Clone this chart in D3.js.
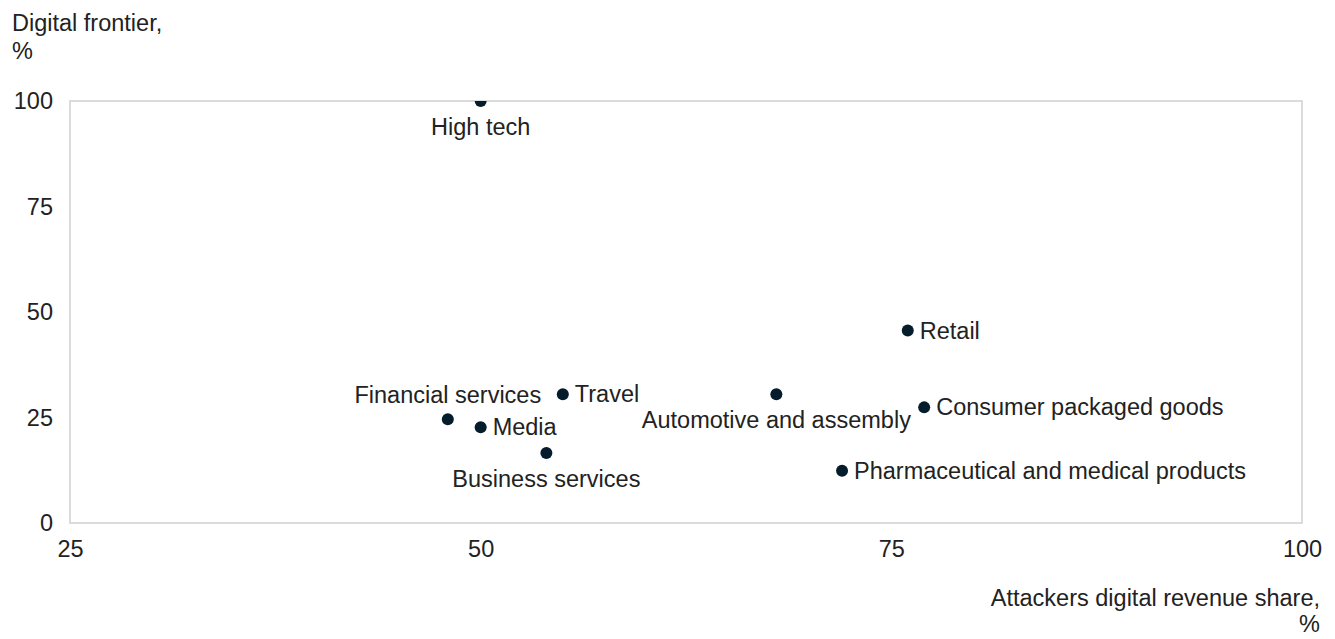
<!DOCTYPE html>
<html>
<head>
<meta charset="utf-8">
<script src="https://cdn.jsdelivr.net/npm/d3@7"></script>
<style>
  html, body { margin: 0; padding: 0; background: #fff; }
  svg { display: block; font-family: "Liberation Sans", Arial, sans-serif; }
</style>
</head>
<body>
<svg id="chart" width="1335" height="639"></svg>
<script>
// Industries plotted: attackers' digital revenue share vs. digital frontier
const industries = [
  "High tech", "Retail", "Travel", "Automotive and assembly",
  "Consumer packaged goods", "Financial services", "Media",
  "Business services", "Pharmaceutical and medical products"
];
const revenueShare = [50, 76, 55, 68, 77, 48, 50, 54, 72];
const digitalFrontier = [100, 45.6, 30.5, 30.5, 27.4, 24.6, 22.7, 16.6, 12.4];
// where each label sits relative to its dot
const labelSide = ["below", "right", "right", "below", "right", "above", "right", "below", "right"];

const xTicks = [25, 50, 75, 100];
const yTicks = [0, 25, 50, 75, 100];

const width = 1335, height = 639;
const plot = { left: 70, right: 1302, top: 101, bottom: 523 };
const ink = "#051c2c";
const textColor = "#222";
const fontSize = 23.5;

const svg = d3.select("#chart");

const x = d3.scaleLinear().domain([25, 100]).range([plot.left, plot.right]);
const y = d3.scaleLinear().domain([0, 100]).range([plot.bottom, plot.top]);

// plot frame
svg.append("rect")
  .attr("x", plot.left).attr("y", plot.top)
  .attr("width", plot.right - plot.left).attr("height", plot.bottom - plot.top)
  .attr("fill", "none").attr("stroke", "#d0d0d0").attr("stroke-width", 1.5);

// axes: labels only, no tick marks or domain line
const yAxis = d3.axisLeft(y).tickValues(yTicks).tickSize(0).tickPadding(17);
svg.append("g").attr("transform", `translate(${plot.left},0)`).call(yAxis)
  .call(g => g.select(".domain").remove())
  .selectAll("text").attr("font-size", fontSize).attr("fill", textColor)
  .attr("font-family", "Liberation Sans, Arial, sans-serif");

const xAxis = d3.axisBottom(x).tickValues(xTicks).tickSize(0).tickPadding(17);
svg.append("g").attr("transform", `translate(0,${plot.bottom})`).call(xAxis)
  .call(g => g.select(".domain").remove())
  .selectAll("text").attr("font-size", fontSize).attr("fill", textColor)
  .attr("font-family", "Liberation Sans, Arial, sans-serif");

// axis titles
const yTitle = svg.append("text").attr("x", 12).attr("y", 31)
  .attr("font-size", fontSize).attr("fill", textColor);
yTitle.append("tspan").attr("x", 12).text("Digital frontier,");
yTitle.append("tspan").attr("x", 12).attr("dy", 28).text("%");

const xTitle = svg.append("text").attr("x", 1320).attr("y", 606)
  .attr("text-anchor", "end").attr("font-size", fontSize).attr("fill", textColor);
xTitle.append("tspan").attr("x", 1320).text("Attackers digital revenue share,");
xTitle.append("tspan").attr("x", 1320).attr("dy", 26).text("%");

// clip dots to the plot frame
svg.append("clipPath").attr("id", "plot-clip")
  .append("rect")
  .attr("x", plot.left).attr("y", plot.top)
  .attr("width", plot.right - plot.left).attr("height", plot.bottom - plot.top);

const data = industries.map((name, i) => ({
  name, xv: revenueShare[i], yv: digitalFrontier[i], side: labelSide[i]
}));

svg.append("g").attr("clip-path", "url(#plot-clip)")
  .selectAll("circle").data(data).join("circle")
  .attr("cx", d => x(d.xv)).attr("cy", d => y(d.yv))
  .attr("r", 6).attr("fill", ink);

svg.append("g").selectAll("text").data(data).join("text")
  .attr("font-size", fontSize).attr("fill", textColor)
  .attr("dominant-baseline", "central")
  .attr("text-anchor", d => d.side === "right" ? "start" : "middle")
  .attr("x", d => d.side === "right" ? x(d.xv) + 12 : x(d.xv))
  .attr("y", d => d.side === "below" ? y(d.yv) + 26 : d.side === "above" ? y(d.yv) - 24 : y(d.yv))
  .text(d => d.name);
</script>
</body>
</html>
